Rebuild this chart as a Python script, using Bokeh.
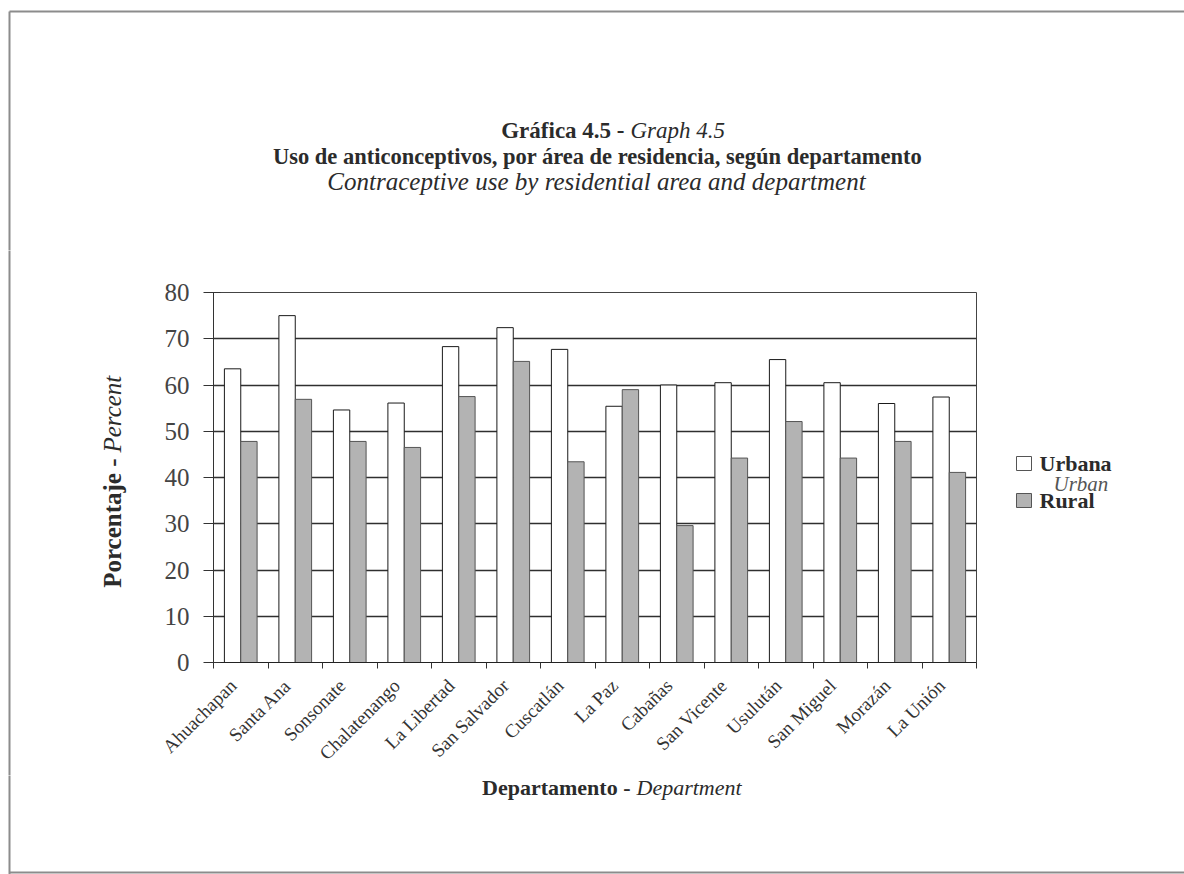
from math import pi

from bokeh.embed import file_html
from bokeh.resources import INLINE
from bokeh.plotting import figure
from bokeh.layouts import column, row
from bokeh.models import ColumnDataSource, FixedTicker, Range1d
from bokeh.core.properties import value

# Departments and contraceptive use (%) by area of residence
departments = ["Ahuachapan", "Santa Ana", "Sonsonate", "Chalatenango",
               "La Libertad", "San Salvador", "Cuscatlán", "La Paz",
               "Cabañas", "San Vicente", "Usulután", "San Miguel",
               "Morazán", "La Unión"]
urbana = [63.5, 75.0, 54.6, 56.1, 68.3, 72.4, 67.7,
          55.4, 60.0, 60.5, 65.5, 60.5, 56.0, 57.4]
rural = [47.8, 56.9, 47.8, 46.5, 57.5, 65.1, 43.4,
         59.0, 29.6, 44.2, 52.1, 44.2, 47.8, 41.1]
y_ticks = [0, 10, 20, 30, 40, 50, 60, 70, 80]

SERIF = "Liberation Serif"
INK = "#2b2b2b"
RURAL_FILL = "#b3b3b3"
FRAME = "#8c8c8c"

W, H = 1184, 874
TITLE_H = 250          # title strip
MID_H = 525            # chart row
YLAB_W = 140           # strip holding the y-axis title
LEG_W = 184            # strip holding the legend
CHART_W = W - YLAB_W - LEG_W
XLAB_H = H - TITLE_H - MID_H

# plot frame edges on the page
FL, FR, FT, FB = 213, 976, 292, 662


def strip(w, h):
    """Blank panel whose data units are its own pixels (origin bottom-left)."""
    f = figure(width=w, height=h, output_backend="svg", toolbar_location=None,
               x_range=Range1d(0, w), y_range=Range1d(0, h),
               min_border=0, x_axis_location=None, y_axis_location=None,
               outline_line_color=None, background_fill_color="white",
               border_fill_color="white", frame_align=False)
    f.grid.grid_line_color = None
    return f


def text(f, s, x, y, size, style="normal", align="center", angle=0,
         color=INK):
    f.text(x=[x], y=[f.height - y], text=[s], text_font=value(SERIF),
           text_font_size=size, text_font_style=style, text_align=align,
           text_baseline="middle", angle=angle, text_color=color)


def hline(f, x0, x1, y):
    f.segment(x0=[x0], x1=[x1], y0=[f.height - y], y1=[f.height - y],
              line_color=FRAME, line_width=2)


def vline(f, x, y0, y1):
    f.segment(x0=[x], x1=[x], y0=[f.height - y0], y1=[f.height - y1],
              line_color=FRAME, line_width=2)


# ---- title strip -------------------------------------------------------
top = strip(W, TITLE_H)
hline(top, 9, W + 5, 11)
vline(top, 9, 11, TITLE_H + 5)
text(top, "Gráfica 4.5 -", 624, 130, "23px", "bold", align="right")
text(top, "Graph 4.5", 630, 130, "23px", "italic", align="left")
text(top, "Uso de anticonceptivos, por área de residencia, según departamento",
     597, 156, "22.5px", "bold")
text(top, "Contraceptive use by residential area and department",
     596, 181, "25px", "italic")

# ---- y-axis title strip --------------------------------------------------
ylab = strip(YLAB_W, MID_H)
vline(ylab, 9, -5, MID_H + 5)
text(ylab, "Porcentaje -", 112, 458 - TITLE_H, "25px", "bold",
     align="right", angle=pi / 2)
text(ylab, "Percent", 112, 452 - TITLE_H, "25px", "italic",
     align="left", angle=pi / 2)

# ---- chart -------------------------------------------------------------
idx = list(range(len(departments)))
src = ColumnDataSource(dict(
    xu=[i + 0.35 for i in idx],
    xr=[i + 0.65 for i in idx],
    urbana=urbana,
    rural=rural,
))

p = figure(width=CHART_W, height=MID_H, output_backend="svg",
           toolbar_location=None,
           x_range=Range1d(0, len(departments)), y_range=Range1d(0, 80),
           min_border_left=FL - YLAB_W, min_border_right=W - LEG_W - FR,
           min_border_top=FT - TITLE_H, min_border_bottom=TITLE_H + MID_H - FB,
           background_fill_color="white", border_fill_color="white",
           frame_align=False)

p.vbar(x="xu", top="urbana", width=0.3, source=src,
       fill_color="white", line_color="#1a1a1a", line_width=1)
p.vbar(x="xr", top="rural", width=0.3, source=src,
       fill_color=RURAL_FILL, line_color="#555555", line_width=1)

p.outline_line_color = "#444444"
p.xgrid.grid_line_color = None
p.ygrid.ticker = FixedTicker(ticks=y_ticks)
p.ygrid.grid_line_color = "#2f2f2f"
p.ygrid.grid_line_width = 1.3
p.ygrid.level = "underlay"

p.yaxis.ticker = FixedTicker(ticks=y_ticks)
p.yaxis.axis_line_color = "#333333"
p.yaxis.major_tick_line_color = "#333333"
p.yaxis.major_tick_in = 7
p.yaxis.major_tick_out = 10
p.yaxis.minor_tick_line_color = None
p.yaxis.major_label_text_font = SERIF
p.yaxis.major_label_text_font_size = "25px"
p.yaxis.major_label_text_color = "#444444"
p.yaxis.major_label_standoff = 14

# category names sit just left of each centre, tick marks between categories
p.xaxis.ticker = FixedTicker(ticks=[i + 0.36 for i in idx],
                             minor_ticks=list(range(len(departments) + 1)))
p.xaxis.major_label_overrides = {i + 0.36: d for i, d in enumerate(departments)}
p.xaxis.major_label_orientation = pi / 4
p.xaxis.major_tick_line_color = None
p.xaxis.major_tick_in = 0
p.xaxis.major_tick_out = 0
p.xaxis.minor_tick_line_color = "#333333"
p.xaxis.minor_tick_in = 0
p.xaxis.minor_tick_out = 6
p.xaxis.axis_line_color = "#222222"
p.xaxis.major_label_text_font = SERIF
p.xaxis.major_label_text_font_size = "19px"
p.xaxis.major_label_text_color = "#333333"
p.xaxis.major_label_standoff = 14

# ---- legend strip ------------------------------------------------------
leg = strip(LEG_W, MID_H)
x0 = W - LEG_W
leg.quad(left=[1016 - x0], right=[1031 - x0],
         top=[MID_H - (456 - TITLE_H)], bottom=[MID_H - (470 - TITLE_H)],
         fill_color="white", line_color="#555555", line_width=1)
leg.quad(left=[1016 - x0], right=[1031 - x0],
         top=[MID_H - (493 - TITLE_H)], bottom=[MID_H - (507 - TITLE_H)],
         fill_color=RURAL_FILL, line_color="#555555", line_width=1)
text(leg, "Urbana", 1039 - x0, 463 - TITLE_H, "22px", "bold", align="left")
text(leg, "Urban", 1053 - x0, 483 - TITLE_H, "21px", "italic", align="left",
     color="#555555")
text(leg, "Rural", 1039 - x0, 500 - TITLE_H, "22px", "bold", align="left")

# ---- x-axis title strip --------------------------------------------------
bot = strip(W, XLAB_H)
vline(bot, 9, -5, XLAB_H)
hline(bot, 9, W + 5, XLAB_H - 2)
xt_y = 787 - TITLE_H - MID_H
text(bot, "Departamento -", 630, xt_y, "22px", "bold", align="right")
text(bot, "Department", 636, xt_y, "22px", "italic", align="left")

page = column(top, row(ylab, p, leg), bot)
open("out.html", "w").write(file_html(page, INLINE))
